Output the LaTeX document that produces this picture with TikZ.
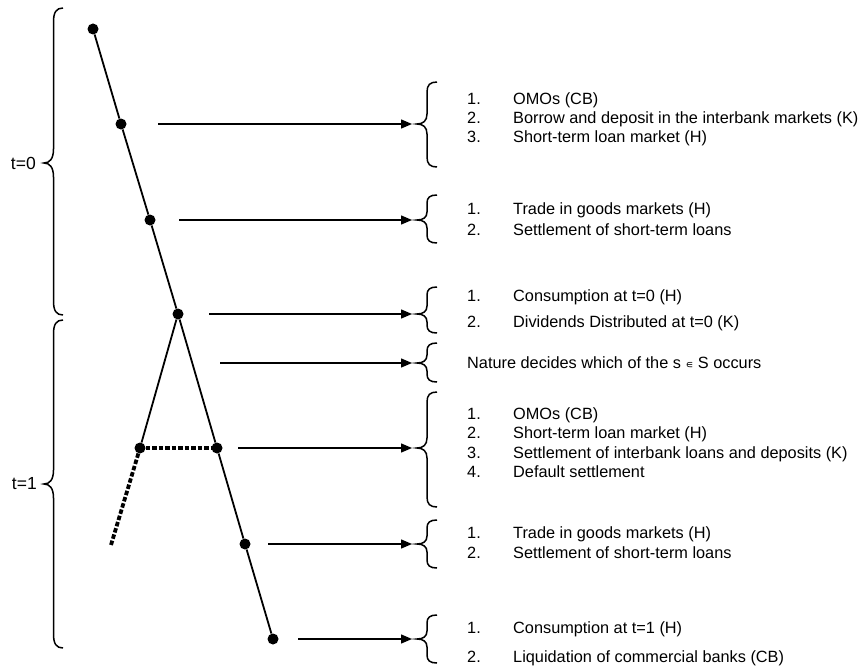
\documentclass[tikz,border=0pt]{standalone}
\usepackage{fontspec}
\setmainfont{Liberation Sans}
\newfontfamily\djv{DejaVu Sans}
\usetikzlibrary{arrows.meta}
% #1 tip x, #2 top y, #3 tip y, #4 bottom y, #5 half width, #6 radius
\newcommand\mybrace[6]{%
  \draw[brc] (#1+2*#5,#2) .. controls (#1+1.3*#5,#2) and (#1+#5,#2+0.3*#6) .. (#1+#5,#2+#6)
    -- (#1+#5,#3-#6) .. controls (#1+#5,#3-0.3*#6) and (#1+0.6*#5,#3) .. (#1,#3)
    .. controls (#1+0.6*#5,#3) and (#1+#5,#3+0.3*#6) .. (#1+#5,#3+#6)
    -- (#1+#5,#4-#6) .. controls (#1+#5,#4-0.3*#6) and (#1+1.3*#5,#4) .. (#1+2*#5,#4);}
\begin{document}
\begin{tikzpicture}[x=1pt,y=-1pt,
  dot/.style={circle,fill=black,inner sep=0pt,minimum size=11pt},
  tree/.style={line width=1.8pt},
  dash3/.style={line width=3.8pt,dash pattern=on 4.5pt off 2pt},
  arr/.style={line width=1.4pt,-{Triangle[length=11pt,width=9pt]},shorten >=5pt},
  brc/.style={line width=1.5pt},
  num/.style={anchor=base west,inner sep=0pt,font=\fontsize{16.3}{18}\selectfont},
  tlab/.style={anchor=east,inner sep=0pt,font=\fontsize{17.5}{20}\selectfont}]
\useasboundingbox (0,0) rectangle (867,669);

% tree
\node[dot] (d1) at (93,29) {};
\node[dot] (d2) at (121,124) {};
\node[dot] (d3) at (150,220) {};
\node[dot] (d4) at (178,314) {};
\node[dot] (d5) at (217,448) {};
\node[dot] (d6) at (245,544) {};
\node[dot] (d7) at (273,639) {};
\node[dot] (l5) at (140,448) {};
\coordinate (e1) at (111,545);
\draw[tree] (d1) -- (d2) -- (d3) -- (d4) -- (d5) -- (d6) -- (d7);
\draw[tree] (d4) -- (l5);
\draw[dash3] (l5) -- (d5);
\draw[dash3] (l5) -- (e1);

% left braces
\mybrace{44}{8}{163}{315}{9.5}{14}
\mybrace{44}{320}{484}{648}{9.5}{14}
\node[tlab] (t0) at (36,163) {t=0};
\node[tlab] (t1) at (37,484) {t=1};

% right braces (tip coordinates)
\coordinate (b1) at (417,124);
\coordinate (b2) at (417,220);
\coordinate (b3) at (417,314);
\coordinate (b4) at (417,363);
\coordinate (b5) at (417,448);
\coordinate (b6) at (417,544);
\coordinate (b7) at (417,639);
\mybrace{417}{82}{124}{167}{10}{10}
\mybrace{417}{195}{220}{243}{10}{8}
\mybrace{417}{287}{314}{333}{10}{8}
\mybrace{417}{343}{363}{382}{10}{8}
\mybrace{417}{392}{448}{507}{10}{10}
\mybrace{417}{520}{544}{568}{10}{8}
\mybrace{417}{615}{639}{663}{10}{8}

% arrows
\coordinate (s1) at (158,124);
\coordinate (s2) at (179,220);
\coordinate (s3) at (209,314);
\coordinate (s4) at (220,363);
\coordinate (s5) at (238,448);
\coordinate (s6) at (268,544);
\coordinate (s7) at (298,639);
\foreach \i in {1,...,7} \draw[arr] (s\i) -- (b\i);

% texts
\node[num] (n11) at (467,104.5) {1.};
\node[num] (i11) at (513,104.5) {OMOs (CB)};
\node[num] (n12) at (467,123.5) {2.};
\node[num] (i12) at (513,123.5) {Borrow and deposit in the interbank markets (K)};
\node[num] (n13) at (467,142.5) {3.};
\node[num] (i13) at (513,142.5) {Short-term loan market (H)};

\node[num] (n21) at (467,214.5) {1.};
\node[num] (i21) at (513,214.5) {Trade in goods markets (H)};
\node[num] (n22) at (467,235.5) {2.};
\node[num] (i22) at (513,235.5) {Settlement of short-term loans};

\node[num] (n31) at (467,301.5) {1.};
\node[num] (i31) at (513,301.5) {Consumption at t=0 (H)};
\node[num] (n32) at (467,327.5) {2.};
\node[num] (i32) at (513,327.5) {Dividends Distributed at t=0 (K)};

\node[num] (i41) at (467,368.5) {Nature decides which of the s {\djv\fontsize{11}{12}\selectfont ∊} S occurs};

\node[num] (n51) at (467,419.5) {1.};
\node[num] (i51) at (513,419.5) {OMOs (CB)};
\node[num] (n52) at (467,438.5) {2.};
\node[num] (i52) at (513,438.5) {Short-term loan market (H)};
\node[num] (n53) at (467,458) {3.};
\node[num] (i53) at (513,458) {Settlement of interbank loans and deposits (K)};
\node[num] (n54) at (467,477.5) {4.};
\node[num] (i54) at (513,477.5) {Default settlement};

\node[num] (n61) at (467,538) {1.};
\node[num] (i61) at (513,538) {Trade in goods markets (H)};
\node[num] (n62) at (467,558.5) {2.};
\node[num] (i62) at (513,558.5) {Settlement of short-term loans};

\node[num] (n71) at (467,633.5) {1.};
\node[num] (i71) at (513,633.5) {Consumption at t=1 (H)};
\node[num] (n72) at (467,662.5) {2.};
\node[num] (i72) at (513,662.5) {Liquidation of commercial banks (CB)};
\end{tikzpicture}
\end{document}
